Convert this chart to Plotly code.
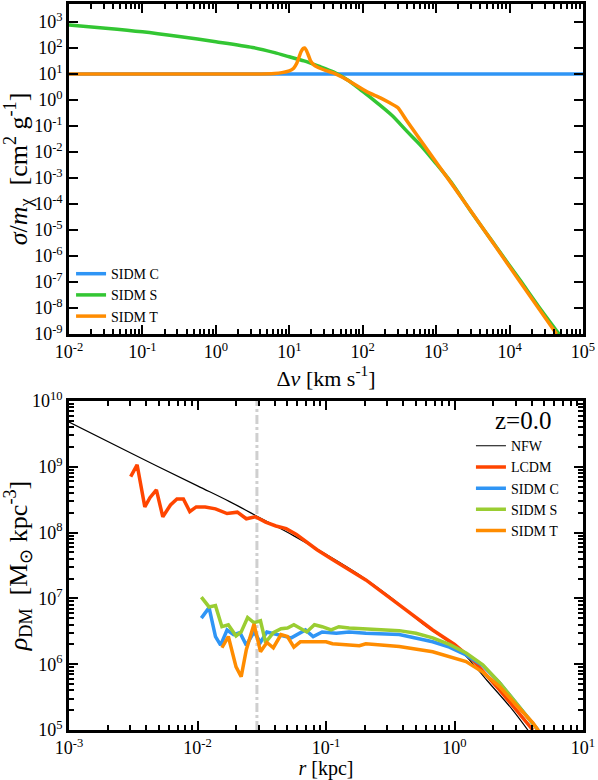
import numpy as np
import plotly.graph_objects as go
from plotly.subplots import make_subplots

# ---- top panel: cross section vs relative velocity (log10 values)
lv_c = [-2.0, 5.0]
ls_c = [1.0, 1.0]

lv_s = [-2.0, -1.5, -1.0, -0.5, 0.0, 0.5, 0.8, 1.0, 1.2, 1.4, 1.6, 1.8, 2.0, 2.2,
        2.4, 2.6, 2.8, 3.0, 3.2, 3.46, 3.8, 4.14, 4.4, 4.7]
ls_s = [2.88, 2.76, 2.62, 2.44, 2.24, 2.02, 1.82, 1.66, 1.50, 1.30, 1.08, 0.76, 0.33, -0.12,
        -0.60, -1.20, -1.78, -2.45, -3.15, -4.23, -5.58, -6.92, -7.96, -9.1]

lv_t = [-2.0, 0.5, 0.8, 0.9, 1.0, 1.06, 1.10, 1.13, 1.16, 1.19, 1.21, 1.23, 1.26, 1.29, 1.33,
        1.38, 1.5, 1.6, 1.79, 2.06, 2.24, 2.36, 2.48, 2.6, 2.88, 3.2, 3.46, 3.8, 4.14, 4.64]
ls_t = [1.0, 1.0, 1.02, 1.05, 1.12, 1.22, 1.40, 1.62, 1.85, 1.98, 2.0, 1.92, 1.72, 1.50, 1.36,
        1.27, 1.13, 1.04, 0.77, 0.31, 0.08, -0.10, -0.30, -0.80, -1.92, -3.18, -4.22, -5.6, -6.98, -9.0]

# ---- bottom panel: density profiles (log10 r [kpc], log10 rho)
lr_nfw = [-3.0, -2.5, -2.0, -1.75, -1.5, -1.25, -1.0, -0.75, -0.5, -0.25, 0.0, 0.1, 0.25, 0.45, 0.6]
lp_nfw = [9.68, 9.19, 8.71, 8.47, 8.21, 7.95, 7.67, 7.37, 7.02, 6.62, 6.28, 6.10, 5.76, 5.31, 4.92]

lr_lcdm = [-2.52, -2.47, -2.41, -2.37, -2.32, -2.27, -2.21, -2.16, -2.11, -2.06, -2.01, -1.94,
           -1.86, -1.77, -1.69, -1.62, -1.55, -1.47, -1.39, -1.31, -1.23, -1.07, -0.95, -0.69,
           -0.43, -0.17, 0.0, 0.14, 0.35, 0.61]
lp_lcdm = [8.85, 9.03, 8.39, 8.53, 8.65, 8.24, 8.42, 8.51, 8.51, 8.32, 8.39, 8.39,
           8.36, 8.29, 8.31, 8.21, 8.24, 8.16, 8.10, 8.06, 7.97, 7.74, 7.59, 7.28,
           6.90, 6.52, 6.30, 6.07, 5.61, 5.0]

lr_c = [-1.97, -1.91, -1.86, -1.82, -1.77, -1.72, -1.67, -1.62, -1.56, -1.51, -1.46, -1.37,
        -1.27, -1.16, -1.10, -1.03, -0.92, -0.82, -0.69, -0.43, -0.17, -0.04, 0.09, 0.22,
        0.35, 0.48, 0.61, 0.65]
lp_c = [6.70, 6.86, 6.42, 6.29, 6.52, 6.45, 6.48, 6.29, 6.49, 6.33, 6.49, 6.45,
        6.40, 6.52, 6.42, 6.49, 6.47, 6.49, 6.47, 6.45, 6.34, 6.26, 6.14, 5.98,
        5.72, 5.41, 5.11, 5.0]

lr_s = [-1.97, -1.91, -1.86, -1.81, -1.76, -1.70, -1.66, -1.61, -1.56, -1.51, -1.47, -1.41,
        -1.35, -1.30, -1.25, -1.20, -1.15, -1.09, -1.03, -0.96, -0.90, -0.82, -0.69, -0.43,
        -0.30, -0.17, -0.04, 0.09, 0.22, 0.35, 0.48, 0.61, 0.65]
lp_s = [7.02, 6.87, 6.89, 6.57, 6.60, 6.43, 6.49, 6.71, 6.63, 6.66, 6.33, 6.48,
        6.54, 6.55, 6.60, 6.55, 6.49, 6.60, 6.57, 6.52, 6.57, 6.55, 6.54, 6.51,
        6.47, 6.40, 6.30, 6.17, 5.99, 5.72, 5.41, 5.11, 5.0]

lr_t = [-1.81, -1.76, -1.70, -1.66, -1.62, -1.56, -1.51, -1.46, -1.41, -1.35, -1.30, -1.25,
        -1.20, -1.11, -1.00, -0.95, -0.84, -0.74, -0.69, -0.43, -0.17, -0.04, 0.09, 0.22,
        0.35, 0.48, 0.61, 0.66]
lp_t = [6.25, 6.42, 5.96, 5.81, 6.22, 6.61, 6.19, 6.33, 6.25, 6.45, 6.42, 6.26,
        6.34, 6.34, 6.34, 6.31, 6.30, 6.28, 6.31, 6.27, 6.19, 6.11, 6.04, 5.88,
        5.66, 5.38, 5.11, 4.97]

r_conv = 0.029  # kpc, vertical reference line

def p10(a):
    return 10 ** np.array(a)

FONT = "Liberation Serif"
BLUE = "#2f95f5"
ORANGE = "#ff8c00"

fig = make_subplots(rows=2, cols=1)

fig.add_trace(go.Scatter(x=p10(lv_c), y=p10(ls_c), mode="lines", name="SIDM C",
                         line=dict(color=BLUE, width=3.5), legend="legend"), row=1, col=1)
fig.add_trace(go.Scatter(x=p10(lv_s), y=p10(ls_s), mode="lines", name="SIDM S",
                         line=dict(color="#33c633", width=3.5, shape="spline", smoothing=0.8),
                         legend="legend"), row=1, col=1)
fig.add_trace(go.Scatter(x=p10(lv_t), y=p10(ls_t), mode="lines", name="SIDM T",
                         line=dict(color=ORANGE, width=3.5, shape="spline", smoothing=0.5),
                         legend="legend"), row=1, col=1)

fig.add_trace(go.Scatter(x=[r_conv, r_conv], y=[1e5, 1e10], mode="lines", showlegend=False,
                         line=dict(color="#cfcfcf", width=3, dash="dashdot")), row=2, col=1)
fig.add_trace(go.Scatter(x=p10(lr_nfw), y=p10(lp_nfw), mode="lines", name="NFW",
                         line=dict(color="black", width=1.2, shape="spline"),
                         legend="legend2"), row=2, col=1)
fig.add_trace(go.Scatter(x=p10(lr_lcdm), y=p10(lp_lcdm), mode="lines", name="LCDM",
                         line=dict(color="#ff4500", width=3.5), legend="legend2"), row=2, col=1)
fig.add_trace(go.Scatter(x=p10(lr_c), y=p10(lp_c), mode="lines", name="SIDM C",
                         line=dict(color=BLUE, width=3.5), legend="legend2"), row=2, col=1)
fig.add_trace(go.Scatter(x=p10(lr_s), y=p10(lp_s), mode="lines", name="SIDM S",
                         line=dict(color="#9acd32", width=3.5), legend="legend2"), row=2, col=1)
fig.add_trace(go.Scatter(x=p10(lr_t), y=p10(lp_t), mode="lines", name="SIDM T",
                         line=dict(color=ORANGE, width=3.5), legend="legend2"), row=2, col=1)


def dec_labels(lo, hi):
    vals = [10.0 ** k for k in range(lo, hi + 1)]
    text = ["10<sup>%d</sup>" % k for k in range(lo, hi + 1)]
    return vals, text


# automargin on (so title standoff is honoured) but margins are frozen by autoexpand=False
axis_style = dict(type="log", showline=True, linecolor="black", linewidth=2.5, mirror="ticks",
                  ticks="inside", ticklen=9, tickwidth=2, tickcolor="black", showgrid=False,
                  zeroline=False, tickfont=dict(family=FONT, size=18, color="black"),
                  tickmode="array", automargin=True)
minor_style = dict(ticks="inside", ticklen=5, tickwidth=1.5, tickcolor="black", dtick="D1",
                   showgrid=False)
xtitle_font = dict(family=FONT, size=22, color="black")
ytitle_font = dict(family=FONT, size=26, color="black")

tv, tt = dec_labels(-2, 5)
fig.update_xaxes(axis_style, range=[-2, 5], tickvals=tv, ticktext=tt, minor=minor_style,
                 domain=[0, 1], row=1, col=1,
                 title=dict(text="Δ<i>v</i> [km s<sup>-1</sup>]", standoff=0, font=xtitle_font))
tv, tt = dec_labels(-9, 3)
fig.update_yaxes(axis_style, range=[-9, 3.69], tickvals=tv, ticktext=tt,
                 domain=[0.5455, 1], row=1, col=1,
                 title=dict(text="<i>σ</i>/<i>m</i><sub>χ</sub>  [cm<sup>2</sup> g<sup>-1</sup>]",
                            standoff=2, font=ytitle_font))

tv, tt = dec_labels(-3, 1)
fig.update_xaxes(axis_style, range=[-3, 1], tickvals=tv, ticktext=tt, minor=minor_style,
                 domain=[0, 1], row=2, col=1,
                 title=dict(text="<i>r</i> [kpc]", standoff=4,
                            font=dict(family=FONT, size=20, color="black")))
tv, tt = dec_labels(5, 10)
fig.update_yaxes(axis_style, range=[5, 10], tickvals=tv, ticktext=tt, minor=minor_style,
                 domain=[0, 0.4532], row=2, col=1,
                 title=dict(text="<i>ρ</i><sub>DM</sub>  [M<sub>⊙</sub> kpc<sup>-3</sup>]",
                            standoff=2, font=ytitle_font))

fig.add_annotation(text="z=0.0", xref="paper", yref="paper", x=0.883, y=0.426,
                   xanchor="center", yanchor="middle", showarrow=False,
                   font=dict(family=FONT, size=25, color="black"))

fig.update_layout(
    width=598, height=780,
    margin=dict(l=69, r=15, t=4, b=50, autoexpand=False),
    paper_bgcolor="white", plot_bgcolor="white",
    font=dict(family=FONT, color="black"),
    legend=dict(x=0.004, y=0.650, xanchor="left", yanchor="top", bgcolor="rgba(0,0,0,0)",
                font=dict(family=FONT, size=14, color="black"), tracegroupgap=0),
    legend2=dict(x=0.782, y=0.413, xanchor="left", yanchor="top", bgcolor="rgba(0,0,0,0)",
                 font=dict(family=FONT, size=14, color="black"), tracegroupgap=0),
)

# page body has a default 8px margin; drop it so the figure sits at the window corner
fig.write_html("out.html", config={"displayModeBar": False},
               post_script="document.body.style.margin='0px';")
